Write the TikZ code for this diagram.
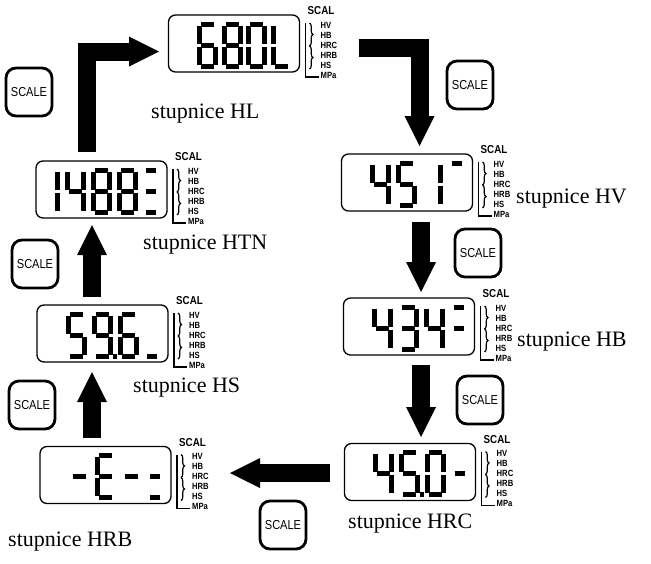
\documentclass[tikz,border=0pt]{standalone}
\usepackage{fontspec}
\setmainfont{Liberation Serif}
\newfontfamily\tagfont{Liberation Sans}[FakeStretch=0.85]
\usetikzlibrary{arrows.meta, positioning, calc, decorations.pathreplacing}

% segments of one LCD cell (16 x 42), t/m/u = small marks of the last cell
\def\sega{(1.5,0) -- (14.5,0)}
\def\segb{(16,1.5) -- (16,19.5)}
\def\segc{(16,22.5) -- (16,40.5)}
\def\segd{(1.5,42) -- (14.5,42)}
\def\sege{(0,22.5) -- (0,40.5)}
\def\segf{(0,1.5) -- (0,19.5)}
\def\segg{(1.5,21) -- (14.5,21)}
\def\segp{(18.5,42) -- (22.5,42)}
\def\segt{(0,0) -- (10,0)}
\def\segm{(0,21) -- (10,21)}
\def\segu{(0,42) -- (10,42)}

\newcommand{\lcddigit}[3]{%
  \begin{scope}[shift={($(#1.north west)+(#2,9)$)}]
    \foreach \s in {#3} {%
      \edef\lcdpath{\csname seg\s\endcsname}%
      \draw[lcdseg] \lcdpath;}
  \end{scope}}

\newcommand{\scaltags}[1]{%
  \node[tagtitle, anchor=west] (#1-scal) at ($(#1.north east)+(8,-4)$) {SCAL};
  \foreach \t [count=\k] in {HV,HB,HRC,HRB,HS,MPa}
    \node[tag, anchor=west] (#1-tag\k) at ($(#1.north east)+(21,\k*10)$) {\t};
  \draw[line width=1.2pt] ($(#1.north east)+(6,8)$) -- ($(#1.north east)+(6,62)$)
    -- ($(#1.north east)+(19,62)$);
  \draw[line width=1.2pt, decorate, decoration={brace, amplitude=3.5pt}]
    ($(#1.north east)+(10,8)$) -- ($(#1.north east)+(10,31)$);
  \draw[line width=1.2pt, decorate, decoration={brace, amplitude=3.5pt}]
    ($(#1.north east)+(10,31)$) -- ($(#1.north east)+(10,54)$);}

\begin{document}
\begin{tikzpicture}[
    x=1pt, y=-1pt,
    display/.style={draw, line width=1.3pt, rounded corners=7pt, minimum width=131pt,
                    minimum height=57pt, inner sep=0pt, outer sep=0pt},
    scalekey/.style={draw, line width=2.8pt, rounded corners=10pt, minimum width=46pt,
                     minimum height=48pt, inner sep=0pt,
                     font=\tagfont\fontsize{13}{13}\selectfont},
    lcdseg/.style={line width=5pt},
    tagtitle/.style={font=\tagfont\bfseries\fontsize{11.5}{11.5}\selectfont, inner sep=0pt},
    tag/.style={font=\tagfont\bfseries\fontsize{9}{9}\selectfont, inner sep=0pt},
    caption/.style={font=\fontsize{22}{24}\selectfont, inner sep=0pt, anchor=base west},
    blockarrow/.style={line width=18pt, -{Triangle[length=30pt, width=30pt, line width=0pt]}},
  ]
  \useasboundingbox (0,0) rectangle (651,563);

  % displays
  \node[display] (hl)  at (234,43.5)  {};
  \node[display] (htn) at (101.5,189.5) {};
  \node[display] (hs)  at (102.5,333.5) {};
  \node[display] (hrb) at (105.5,475) {};
  \node[display] (hv)  at (407,182.5) {};
  \node[display] (hb)  at (409,326.5) {};
  \node[display] (hrc) at (410,472) {};

  % readings
  \lcddigit{hl}{31}{a,f,g,e,c,d}
  \lcddigit{hl}{56}{a,b,c,d,e,f,g}
  \lcddigit{hl}{80}{a,b,c,d,e,f}
  \lcddigit{hl}{105}{f,e,d}

  \lcddigit{htn}{5}{b,c}
  \lcddigit{htn}{31}{f,g,b,c}
  \lcddigit{htn}{57}{a,b,c,d,e,f,g}
  \lcddigit{htn}{83}{a,b,c,d,e,f,g}
  \lcddigit{htn}{110}{t,m,u}

  \lcddigit{hs}{31}{a,f,g,c,d}
  \lcddigit{hs}{57}{a,b,f,g,c,d,p}
  \lcddigit{hs}{83}{a,f,g,e,c,d}
  \lcddigit{hs}{110}{u}

  \lcddigit{hrb}{31}{g}
  \lcddigit{hrb}{57}{a,f,g,e,d}
  \lcddigit{hrb}{83}{g}
  \lcddigit{hrb}{110}{m,u}

  \lcddigit{hv}{31}{f,g,b,c}
  \lcddigit{hv}{57}{a,f,g,c,d}
  \lcddigit{hv}{83}{b,c}
  \lcddigit{hv}{110}{t}

  \lcddigit{hb}{31}{f,g,b,c}
  \lcddigit{hb}{57}{a,b,g,c,d}
  \lcddigit{hb}{83}{f,g,b,c}
  \lcddigit{hb}{110}{t,m}

  \lcddigit{hrc}{31}{f,g,b,c}
  \lcddigit{hrc}{57}{a,f,g,c,d,p}
  \lcddigit{hrc}{83}{a,b,c,d,e,f}
  \lcddigit{hrc}{110}{m}

  % scale tags
  \scaltags{hl}
  \scaltags{htn}
  \scaltags{hs}
  \scaltags{hrb}
  \scaltags{hv}
  \scaltags{hb}
  \scaltags{hrc}

  % captions
  \node[caption] (cap-hl)  at (151,118) {stupnice HL};
  \node[caption] (cap-htn) at (143,249) {stupnice HTN};
  \node[caption] (cap-hs)  at (133,392) {stupnice HS};
  \node[caption] (cap-hrb) at (8,546)   {stupnice HRB};
  \node[caption] (cap-hv)  at (516,203) {stupnice HV};
  \node[caption] (cap-hb)  at (517,346) {stupnice HB};
  \node[caption] (cap-hrc) at (348,528) {stupnice HRC};

  % keys
  \node[scalekey] (key1) at (29,92)   {SCALE};
  \node[scalekey] (key2) at (470,85)  {SCALE};
  \node[scalekey] (key3) at (478,253) {SCALE};
  \node[scalekey] (key4) at (480,400) {SCALE};
  \node[scalekey] (key5) at (283,525) {SCALE};
  \node[scalekey] (key6) at (32,405)  {SCALE};
  \node[scalekey] (key7) at (35,264)  {SCALE};

  % cycle arrows
  \draw[blockarrow] ($(htn.north)+(-14.5,-9)$) |- ($(hl.west)+(-9.5,8)$);
  \draw[blockarrow] ($(hl.east)+(59.5,4)$) -| ($(hv.north)+(12.5,-8)$);
  \draw[blockarrow] ($(hv.south)+(14,11)$) -- ($(hb.north)+(12,-6)$);
  \draw[blockarrow] ($(hb.south)+(12,10)$) -- ($(hrc.north)+(11,-6.5)$);
  \draw[blockarrow] ($(hrc.west)+(-14.5,1)$) -- ($(hrb.east)+(59,-2)$);
  \draw[blockarrow] ($(hrb.north)+(-13.5,-8.5)$) -- ($(hs.south)+(-10.5,10)$);
  \draw[blockarrow] ($(hs.north)+(-10.5,-8)$) -- ($(htn.south)+(-9.5,7)$);
\end{tikzpicture}
\end{document}
